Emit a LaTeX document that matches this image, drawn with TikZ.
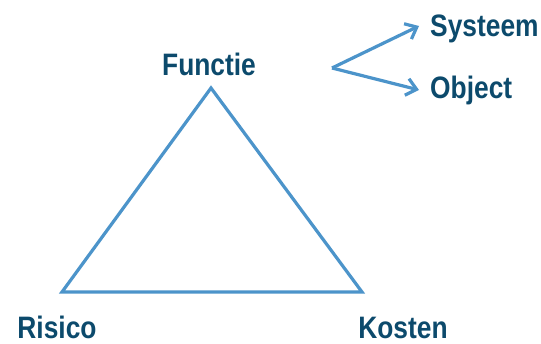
\documentclass[tikz,border=0pt]{standalone}
\usepackage{fontspec}
\setmainfont{Liberation Sans}[FakeStretch=0.85]
\usetikzlibrary{arrows.meta}
\definecolor{lineblue}{RGB}{76,148,202}
\definecolor{textblue}{RGB}{12,74,108}
\begin{document}
\begin{tikzpicture}[
    x=1pt, y=1pt,
    label/.style={font=\fontsize{31}{31}\selectfont\bfseries, text=textblue, inner sep=0pt},
    side/.style={draw=lineblue, line width=3.2pt, line join=miter},
    arrow/.style={-{Straight Barb[length=10pt, width=17pt]}, draw=lineblue, line width=3.2pt}
]
    \useasboundingbox (0,0) rectangle (541,343);

    % triangle corners
    \coordinate (top) at (211,255);
    \coordinate (left) at (62,51);
    \coordinate (right) at (362,51);
    \draw[side] (top) -- (left) -- (right) -- cycle;

    \node[label, anchor=base] (functie) at (209,267) {Functie};
    \node[label, anchor=base] (risico) at (57,5) {Risico};
    \node[label, anchor=base] (kosten) at (403,5) {Kosten};

    % split to the right of Functie
    \coordinate (fork) at (332,275);
    \node[label, anchor=base west] (systeem) at (430,306) {Systeem};
    \node[label, anchor=base west] (object) at (430,244) {Object};

    \draw[arrow] (fork) -- (419,317);
    \draw[arrow] (fork) -- (419,253);
\end{tikzpicture}
\end{document}
